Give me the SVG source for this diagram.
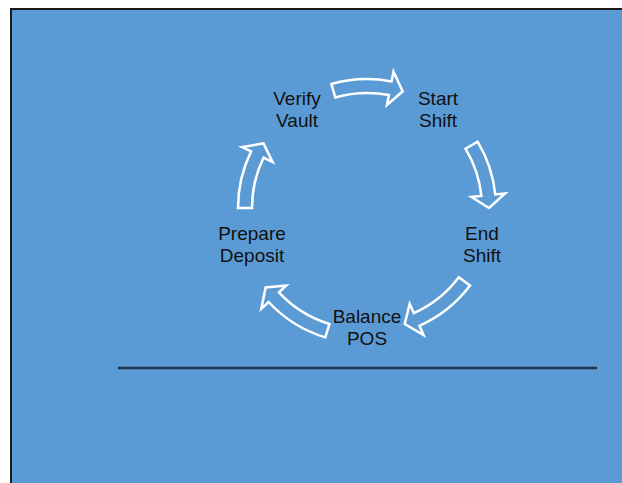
<svg xmlns="http://www.w3.org/2000/svg" width="622" height="483" viewBox="0 0 622 483">
  <style>
    .lbl { font-family: "Liberation Sans", Arial, sans-serif; font-size: 19px; fill: #111; text-anchor: middle; }
    .arr { fill: none; stroke: #ffffff; stroke-width: 2.5; stroke-linejoin: miter; }
  </style>
  <rect x="0" y="0" width="622" height="483" fill="#ffffff"/>
  <rect x="11" y="9" width="630" height="500" fill="#5b9bd5" stroke="#1a1a1a" stroke-width="2"/>
  <g id="connectors">
    <path class="arr" d="M331.4,84 A129,129 0 0 1 391.6,81.4 L393.5,71.6 L402.7,91.3 L387,104.9 L388.9,95.1 A115,115 0 0 0 335.3,97.5 Z"/>
    <path class="arr" d="M477.6,141.6 A129,129 0 0 1 495.3,194.5 L505.2,193.5 L489,208 L471.4,197 L481.4,196 A115,115 0 0 0 465.6,148.8 Z"/>
    <path class="arr" d="M470,285.6 A129,129 0 0 1 419.5,325.8 L423.5,335 L404.7,324 L409.7,303.9 L413.8,313.1 A115,115 0 0 0 458.8,277.2 Z"/>
    <path class="arr" transform="translate(-4,6)" d="M329.3,331.4 A129,129 0 0 1 272.6,296 L265.3,302.8 L269.6,281.4 L290.2,279.6 L282.9,286.4 A115,115 0 0 0 333.4,318 Z"/>
    <path class="arr" d="M238,208 A129,129 0 0 1 251.1,151.4 L242.1,147.1 L263.5,143.4 L272.6,162 L263.6,157.6 A115,115 0 0 0 252,208 Z"/>
  </g>
  <g id="verify-vault">
    <text class="lbl" x="297" y="105">Verify</text>
    <text class="lbl" x="297" y="127">Vault</text>
  </g>
  <g id="start-shift">
    <text class="lbl" x="438" y="105">Start</text>
    <text class="lbl" x="438" y="127">Shift</text>
  </g>
  <g id="end-shift">
    <text class="lbl" x="482" y="240">End</text>
    <text class="lbl" x="482" y="262">Shift</text>
  </g>
  <g id="balance-pos">
    <text class="lbl" x="367" y="323">Balance</text>
    <text class="lbl" x="367" y="345">POS</text>
  </g>
  <g id="prepare-deposit">
    <text class="lbl" x="252" y="240">Prepare</text>
    <text class="lbl" x="252" y="262">Deposit</text>
  </g>
  <line x1="118" y1="368" x2="597" y2="368" stroke="#1f3550" stroke-width="2.5"/>
</svg>
